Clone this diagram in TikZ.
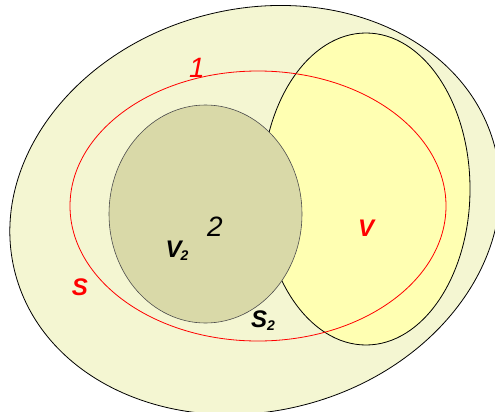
\documentclass[tikz,border=0pt]{standalone}
\usepackage{fontspec}
\setmainfont{Liberation Sans}
\definecolor{outerfill}{RGB}{244,246,210}
\definecolor{vfill}{RGB}{255,255,178}
\definecolor{cfill}{RGB}{217,217,168}
\definecolor{redline}{RGB}{255,0,0}
\tikzset{
  region/.style={draw=black, line width=0.8pt},
  lbl/.style={inner sep=0pt, font=\fontsize{24}{24}\selectfont\bfseries\itshape},
}
\begin{document}
\begin{tikzpicture}[x=1pt,y=-1pt]
\useasboundingbox (0,0) rectangle (495,412);
\clip (0,0) rectangle (495,412);
\fill[white] (0,0) rectangle (495,412);
\path[region, fill=outerfill, rotate around={15:(255,210)}] (255,210) ellipse [x radius=248, y radius=201];
\path[region, fill=vfill] (366,189) ellipse [x radius=104, y radius=156];
\draw[redline, line width=0.8pt] (258,206) ellipse [x radius=188, y radius=135];
\path[draw=black!70, line width=0.6pt, fill=cfill] (205.5,214) ellipse [x radius=96.5, y radius=109];
\node[inner sep=0pt, text=redline, font=\fontsize{28}{28}\selectfont\itshape] (one) at (197,68) {1};
\node[inner sep=0pt, font=\fontsize{28}{28}\selectfont\itshape] (two) at (215,227) {2};
\node[lbl] (v2) at (177,251) {V\kern-1pt\raisebox{-3pt}{\fontsize{14}{14}\selectfont 2}};
\node[lbl, text=redline] (s) at (80,287) {S};
\node[lbl] (s2) at (263,321) {S\raisebox{-3pt}{\fontsize{14}{14}\selectfont 2}};
\node[lbl, text=redline] (v) at (366,228) {V};
\end{tikzpicture}
\end{document}
